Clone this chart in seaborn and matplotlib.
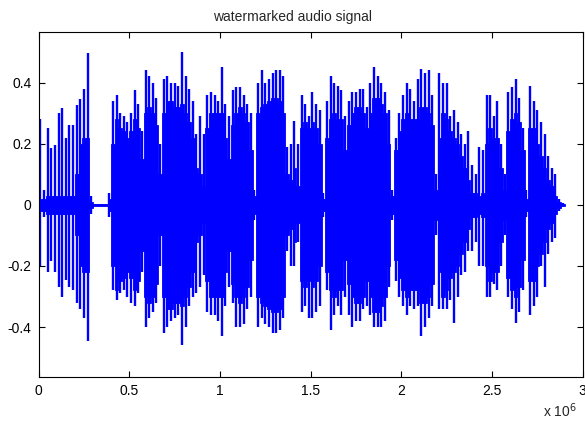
import matplotlib
matplotlib.use("Agg")
import matplotlib.pyplot as plt
import numpy as np
import pandas as pd
import seaborn as sns

# one column every 20000 samples
step = 20000
peak_top = [
    0.28, 0.05, 0.25, 0.185, 0.195, 0.30, 0.315, 0.22, 0.26, 0.26,
    0.325, 0.345, 0.38, 0.495, 0.03, 0.004, 0.004, 0.004, 0.004, 0.04,
    0.34, 0.36, 0.30, 0.29, 0.27, 0.30, 0.375, 0.33, 0.24, 0.44,
    0.42, 0.40, 0.35, 0.20, 0.41, 0.42, 0.40, 0.40, 0.39, 0.50,
    0.42, 0.38, 0.34, 0.23, 0.29, 0.23, 0.36, 0.37, 0.36, 0.34,
    0.45, 0.33, 0.29, 0.375, 0.385, 0.385, 0.36, 0.33, 0.30, 0.05,
    0.40, 0.44, 0.40, 0.41, 0.43, 0.44, 0.44, 0.42, 0.19, 0.20,
    0.275, 0.20, 0.36, 0.33, 0.29, 0.37, 0.33, 0.31, 0.04, 0.34,
    0.42, 0.40, 0.39, 0.375, 0.29, 0.34, 0.37, 0.37, 0.38, 0.38,
    0.32, 0.40, 0.45, 0.42, 0.40, 0.37, 0.31, 0.05, 0.22, 0.30,
    0.36, 0.40, 0.38, 0.34, 0.41, 0.445, 0.43, 0.44, 0.36, 0.10,
    0.43, 0.40, 0.40, 0.29, 0.31, 0.27, 0.23, 0.20, 0.24, 0.13,
    0.10, 0.19, 0.18, 0.36, 0.36, 0.29, 0.34, 0.20, 0.10, 0.37,
    0.385, 0.41, 0.35, 0.25, 0.05, 0.39, 0.34, 0.31, 0.27, 0.23,
    0.16, 0.12, 0.10, 0.02, 0.005,
]
peak_bottom = [
    -0.20, -0.04, -0.22, -0.185, -0.22, -0.27, -0.30, -0.245, -0.27, -0.28,
    -0.32, -0.34, -0.37, -0.445, -0.03, -0.004, -0.004, -0.004, -0.004, -0.04,
    -0.28, -0.31, -0.29, -0.28, -0.30, -0.32, -0.33, -0.29, -0.22, -0.40,
    -0.37, -0.35, -0.32, -0.20, -0.42, -0.40, -0.38, -0.37, -0.36, -0.46,
    -0.40, -0.33, -0.30, -0.29, -0.27, -0.23, -0.35, -0.36, -0.36, -0.38,
    -0.43, -0.33, -0.27, -0.32, -0.40, -0.40, -0.39, -0.34, -0.30, -0.05,
    -0.40, -0.37, -0.39, -0.40, -0.42, -0.42, -0.41, -0.37, -0.15, -0.20,
    -0.20, -0.12, -0.35, -0.33, -0.37, -0.37, -0.35, -0.33, -0.04, -0.28,
    -0.41, -0.36, -0.33, -0.36, -0.30, -0.36, -0.40, -0.38, -0.38, -0.34,
    -0.33, -0.36, -0.40, -0.40, -0.40, -0.38, -0.27, -0.05, -0.25, -0.30,
    -0.33, -0.36, -0.33, -0.34, -0.33, -0.43, -0.40, -0.37, -0.33, -0.10,
    -0.34, -0.34, -0.34, -0.31, -0.385, -0.30, -0.23, -0.22, -0.15, -0.15,
    -0.12, -0.20, -0.20, -0.30, -0.30, -0.26, -0.28, -0.20, -0.10, -0.30,
    -0.34, -0.385, -0.35, -0.28, -0.04, -0.36, -0.33, -0.30, -0.20, -0.27,
    -0.16, -0.12, -0.11, -0.02, -0.005,
]
core = [
    0.02, 0.02, 0.03, 0.03, 0.03, 0.03, 0.03, 0.03, 0.03, 0.03,
    0.10, 0.20, 0.22, 0.22, 0.01, 0.003, 0.003, 0.003, 0.003, 0.02,
    0.20, 0.28, 0.25, 0.24, 0.22, 0.24, 0.28, 0.25, 0.15, 0.30,
    0.32, 0.30, 0.26, 0.10, 0.30, 0.34, 0.34, 0.32, 0.32, 0.33,
    0.30, 0.27, 0.22, 0.12, 0.10, 0.06, 0.25, 0.30, 0.30, 0.30,
    0.30, 0.22, 0.15, 0.26, 0.30, 0.32, 0.30, 0.27, 0.18, 0.03,
    0.30, 0.32, 0.33, 0.34, 0.35, 0.35, 0.34, 0.30, 0.10, 0.08,
    0.12, 0.06, 0.25, 0.27, 0.25, 0.27, 0.25, 0.20, 0.02, 0.22,
    0.28, 0.30, 0.28, 0.28, 0.18, 0.26, 0.30, 0.32, 0.32, 0.30,
    0.25, 0.30, 0.35, 0.35, 0.33, 0.30, 0.20, 0.03, 0.18, 0.24,
    0.28, 0.30, 0.28, 0.28, 0.28, 0.32, 0.32, 0.30, 0.26, 0.05,
    0.22, 0.30, 0.28, 0.24, 0.22, 0.20, 0.16, 0.12, 0.08, 0.04,
    0.04, 0.03, 0.04, 0.20, 0.25, 0.22, 0.22, 0.12, 0.05, 0.24,
    0.28, 0.30, 0.27, 0.18, 0.02, 0.25, 0.25, 0.20, 0.16, 0.12,
    0.08, 0.06, 0.03, 0.01, 0.003,
]
x_ticks = [0, 0.5e6, 1e6, 1.5e6, 2e6, 2.5e6, 3e6]
x_labels = ["0", "0.5", "1", "1.5", "2", "2.5", "3"]
y_ticks = [-0.4, -0.2, 0, 0.2, 0.4]
y_labels = ["-0.4", "-0.2", "0", "0.2", "0.4"]

df = pd.DataFrame({
    "sample": np.arange(len(peak_top)) * step,
    "top": peak_top,
    "bottom": peak_bottom,
    "core": core,
})
df["zero"] = 0.0

sns.set_style("ticks")
plt.rcParams["font.family"] = ["Liberation Sans", "DejaVu Sans"]

fig = plt.figure(figsize=(5.85, 4.29), dpi=100)
ax = fig.add_axes([0.066, 0.122, 0.930, 0.804])

blue = "#0000ff"
ax.bar(df["sample"], 2 * df["core"], bottom=-df["core"], width=step,
       align="edge", color=blue, edgecolor=blue, linewidth=0.6)
ax.vlines(df["sample"] + step * 0.5, df["bottom"], df["top"],
          color=blue, linewidth=1.7)
sns.lineplot(data=df, x="sample", y="zero", color=blue, linewidth=0.9, ax=ax)

ax.set_xlim(0, 3e6)
ax.set_ylim(-0.562, 0.566)
ax.set_xticks(x_ticks)
ax.set_xticklabels(x_labels)
ax.set_yticks(y_ticks)
ax.set_yticklabels(y_labels)
ax.set_xlabel("")
ax.set_ylabel("")
ax.tick_params(direction="in", top=True, right=True, length=4,
               width=0.8, labelsize=10, colors="black", pad=5)
for s in ax.spines.values():
    s.set_visible(True)
    s.set_color("black")
    s.set_linewidth(0.8)
ax.set_title("watermarked audio signal", fontsize=10, pad=8)
ax.title.set_x(0.467)

fig.text(0.928, 0.022, "x 10$^{6}$", fontsize=10, ha="left", va="bottom")

fig.savefig("out.png", dpi=100, facecolor="white")
